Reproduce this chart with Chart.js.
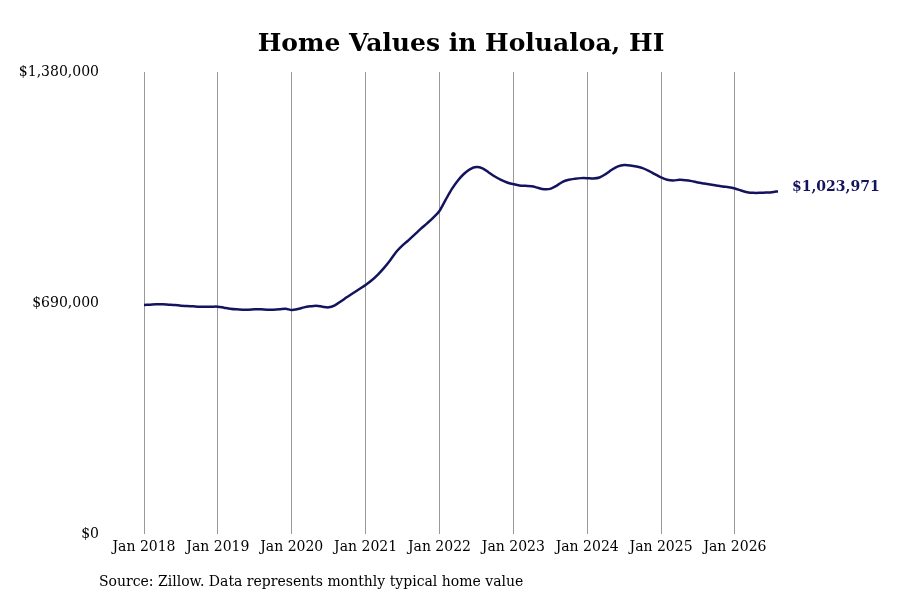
<!DOCTYPE html>
<html><head><meta charset="utf-8">
<script src="https://cdn.jsdelivr.net/npm/chart.js@4"></script>
<style>html,body{margin:0;padding:0;background:#fff}#w{width:900px;height:600px}</style>
</head><body><div id="w"><canvas id="c"></canvas></div>
<script>
const startYear = 2018;
const values2018 = [684,685,686,686,685,684,682,681,680,679,679,679];
const values2019 = [679,676,673,671,670,670,671,671,670,670,671,673];
const values2020 = [669,672,677,680,682,679,677,683,695,708,720,732];
const values2021 = [744,758,775,795,818,843,862,878,895,912,928,945];
const values2022 = [965,998,1030,1056,1076,1090,1096,1092,1080,1068,1058,1050];
const values2023 = [1045,1041,1040,1039,1034,1030,1031,1040,1052,1058,1061,1063];
const values2024 = [1063,1062,1065,1075,1088,1098,1102,1101,1098,1093,1085,1075];
const values2025 = [1065,1058,1056,1058,1057,1054,1050,1047,1044,1041,1038,1036];
const values2026 = [1032,1026,1021,1019,1019,1020,1021,1023.971];
const yTicks = [0, 690000, 1380000];
const monthNames = ['Jan','Feb','Mar','Apr','May','Jun','Jul','Aug','Sep','Oct','Nov','Dec'];

const values = [].concat(values2018,values2019,values2020,values2021,values2022,values2023,values2024,values2025,values2026).map(v=>v*1000);
const labels = values.map((_,i)=>monthNames[i%12]+' '+(startYear+Math.floor(i/12)));
const fmt = v => '$' + Math.round(v).toLocaleString('en-US');
const F = '"DejaVu Serif", serif';

const deco = {
  id:'deco',
  afterDraw(chart){
    const c = chart.ctx; c.save();
    c.fillStyle='#000'; c.font='bold 25px '+F; c.textAlign='center'; c.textBaseline='middle';
    c.fillText('Home Values in Holualoa, HI', 461, 44);
    c.font='14px '+F; c.textAlign='left';
    c.fillText('Source: Zillow. Data represents monthly typical home value', 99, 582);
    const meta = chart.getDatasetMeta(0); const p = meta.data[meta.data.length-1];
    c.fillStyle='#13135e'; c.font='bold 14px '+F;
    c.fillText(fmt(values[values.length-1]), p.x+14, p.y-4);
    c.restore();
  }
};

new Chart(document.getElementById('c'), {
  type:'line',
  data:{labels, datasets:[{data:values, borderColor:'#13135e', borderWidth:2.5, pointRadius:0, tension:0.3, fill:false}]},
  options:{
    responsive:true, maintainAspectRatio:false, animation:false,
    layout:{padding:{left:0,right:122,top:72,bottom:0}},
    plugins:{legend:{display:false}, tooltip:{enabled:false}, title:{display:false}},
    scales:{
      x:{type:'category', offset:false,
        grid:{color:ctx=>(ctx.index%12===0?'#999':'rgba(0,0,0,0)'), drawTicks:false, lineWidth:1},
        border:{display:false},
        ticks:{autoSkip:false, maxRotation:0, padding:5, color:'#000', font:{family:F,size:14},
          callback:(v,i)=>(i%12===0?labels[i]:'')},
        afterFit:s=>{s.height=66;}
      },
      y:{min:0,max:1380000,
        afterBuildTicks:s=>{s.ticks=yTicks.map(v=>({value:v}));},
        grid:{display:false}, border:{display:false},
        ticks:{color:'#000', padding:37, font:{family:F,size:14}, callback:v=>fmt(v)},
        afterFit:s=>{s.width=144;}
      }
    }
  },
  plugins:[deco]
});
</script></body></html>
